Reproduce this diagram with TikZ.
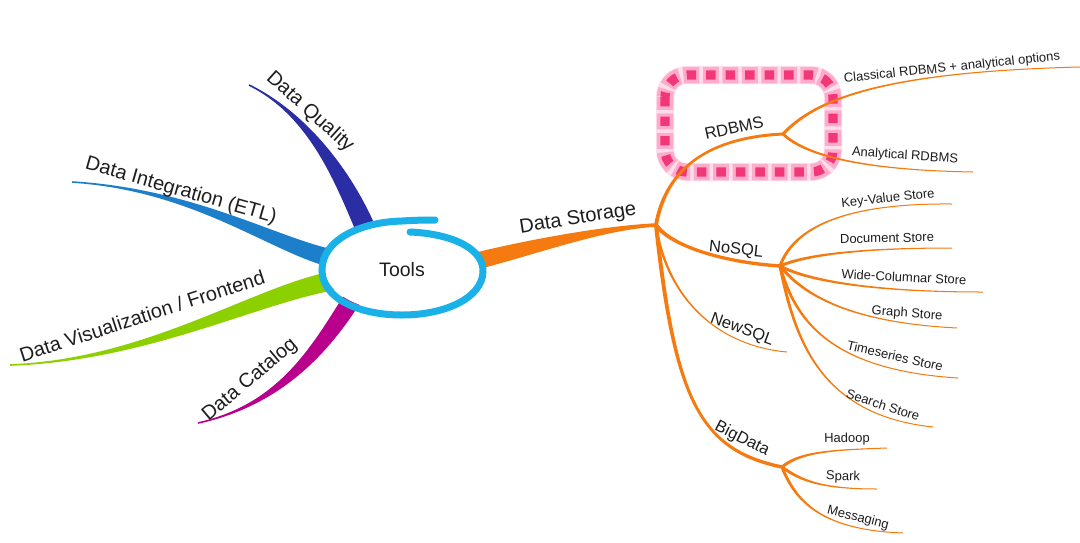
\documentclass[tikz,border=0pt]{standalone}
\usepackage{fontspec}
\setmainfont{Liberation Sans}
\usetikzlibrary{calc}
\definecolor{cq}{RGB}{43,45,165}
\definecolor{ci}{RGB}{29,127,201}
\definecolor{cv}{RGB}{140,208,0}
\definecolor{cc}{RGB}{184,0,140}
\definecolor{co}{RGB}{245,122,16}
\definecolor{ccy}{RGB}{26,176,232}
\definecolor{cpk}{RGB}{242,55,118}
\definecolor{cglow}{RGB}{255,150,190}
\definecolor{txt}{RGB}{30,30,30}
% tapered branch: #1 colour, #2 start, #3 control1, #4 control2, #5 end, #6 half width start, #7 half width end
\newcommand{\taperbranch}[7]{%
  \path ($(#2)!#6!90:(#3)$) coordinate (tA)
        ($(#2)!#6!-90:(#3)$) coordinate (tB)
        ($(#5)!#7!-90:(#4)$) coordinate (tD)
        ($(#5)!#7!90:(#4)$) coordinate (tC);
  \fill[#1] (tA) .. controls ($(#3)+(tA)-(#2)$) and ($(#4)+(tD)-(#5)$) .. (tD)
     -- (tC) .. controls ($(#4)+(tC)-(#5)$) and ($(#3)+(tB)-(#2)$) .. (tB) -- cycle;
}
\tikzset{
  lbl/.style={text=txt, inner sep=0pt},
  big/.style={lbl, font=\fontsize{20}{24}\selectfont},
  mid/.style={lbl, font=\fontsize{16.5}{20}\selectfont},
  small/.style={lbl, font=\fontsize{13}{16}\selectfont},
  glowsoft/.style={draw=cglow, line width=18pt, rounded corners=22pt, draw opacity=0.3},
  glowhalo/.style={draw=cglow, line width=16.5pt, rounded corners=22pt, draw opacity=0.7, dash pattern=on 16pt off 3.5pt, dash phase=3.25pt},
  dashline/.style={draw=cpk, line width=9.3pt, rounded corners=22pt, dash pattern=on 9.3pt off 10.2pt},
  ring/.style={draw=ccy, line width=7pt, line cap=round}
}
\begin{document}
\begin{tikzpicture}[x=1pt,y=-1pt]
\useasboundingbox[fill=white] (0,0) rectangle (1080,542);
% ---------- coordinates ----------
\coordinate (ctr) at (402,270);
\coordinate (dqS) at (367,232); \coordinate (dqA) at (345,180); \coordinate (dqB) at (310,115); \coordinate (dqE) at (249,85);
\coordinate (diS) at (340,260); \coordinate (diA) at (280,250); \coordinate (diB) at (200,190); \coordinate (diE) at (72,182);
\coordinate (dvS) at (338,280); \coordinate (dvA) at (260,292); \coordinate (dvB) at (150,360); \coordinate (dvE) at (10,365);
\coordinate (dcS) at (354,296); \coordinate (dcA) at (320,350); \coordinate (dcB) at (280,405); \coordinate (dcE) at (198,423);
\coordinate (dsS) at (468,263); \coordinate (dsA) at (530,248); \coordinate (dsB) at (600,228); \coordinate (hub) at (656,225);
\coordinate (rdJ) at (783,134); \coordinate (nsJ) at (780,266); \coordinate (bdJ) at (782,467);
\coordinate (clE) at (1080,67); \coordinate (anE) at (973,172);
\coordinate (kvE) at (952,204); \coordinate (docE) at (952,248); \coordinate (wcE) at (983,292);
\coordinate (grE) at (957,328); \coordinate (tsE) at (958,378); \coordinate (ssE) at (933,427);
\coordinate (nwE) at (787,352);
\coordinate (hdE) at (887,448); \coordinate (spE) at (877,489); \coordinate (msE) at (903,533);
\coordinate (boxA) at (665,75); \coordinate (boxB) at (833,172);
% ---------- highlight box ----------
\path[glowsoft] (boxA) rectangle (boxB);
\path[glowhalo] (boxA) rectangle (boxB);
\path[dashline] (boxA) rectangle (boxB);
% ---------- main branches ----------
\taperbranch{cq}{dqS}{dqA}{dqB}{dqE}{10pt}{0.8pt}
\taperbranch{ci}{diS}{diA}{diB}{diE}{9pt}{0.8pt}
\taperbranch{cv}{dvS}{dvA}{dvB}{dvE}{9.5pt}{0.8pt}
\taperbranch{cc}{dcS}{dcA}{dcB}{dcE}{9pt}{0.8pt}
\taperbranch{co}{dsS}{dsA}{dsB}{hub}{8.5pt}{1.8pt}
% ---------- data storage sub-branches ----------
\taperbranch{co}{hub}{665,175}{700,138}{rdJ}{1.9pt}{1.5pt}
\taperbranch{co}{rdJ}{815,100}{880,72}{clE}{1.5pt}{0.5pt}
\taperbranch{co}{rdJ}{805,155}{860,170}{anE}{1.4pt}{0.5pt}
\taperbranch{co}{hub}{670,245}{720,262}{nsJ}{2pt}{1.7pt}
\taperbranch{co}{nsJ}{795,225}{850,203}{kvE}{1.5pt}{0.5pt}
\taperbranch{co}{nsJ}{805,255}{860,248}{docE}{1.5pt}{0.5pt}
\taperbranch{co}{nsJ}{810,282}{880,292}{wcE}{1.5pt}{0.5pt}
\taperbranch{co}{nsJ}{800,290}{840,322}{grE}{1.5pt}{0.5pt}
\taperbranch{co}{nsJ}{795,320}{830,370}{tsE}{1.5pt}{0.5pt}
\taperbranch{co}{nsJ}{795,340}{820,415}{ssE}{1.5pt}{0.5pt}
\taperbranch{co}{hub}{665,290}{710,345}{nwE}{1.3pt}{0.5pt}
\taperbranch{co}{hub}{675,400}{700,450}{bdJ}{2pt}{1.7pt}
\taperbranch{co}{bdJ}{800,452}{830,450}{hdE}{1.5pt}{0.5pt}
\taperbranch{co}{bdJ}{800,480}{820,489}{spE}{1.5pt}{0.5pt}
\taperbranch{co}{bdJ}{795,500}{820,530}{msE}{1.5pt}{0.5pt}
% ---------- central ring ----------
\fill[white] (402.5,268) ellipse [x radius=78pt, y radius=44pt];
\draw[ring] (410,232) .. controls (455,234) and (484,250) .. (483,272)
  .. controls (482,298) and (445,315) .. (402,315)
  .. controls (358,315) and (322,298) .. (322,270)
  .. controls (322,240) and (360,222) .. (402,221)
  .. controls (418,220) and (428,220) .. (435,220);
\node[lbl, font=\fontsize{19.5}{23}\selectfont] (tools) at (ctr) {Tools};
% ---------- labels ----------
\node[big, rotate=-42] (lq) at (310,112) {Data Quality};
\node[big, rotate=-16] (li) at (181,191) {Data Integration (ETL)};
\node[big, rotate=18] (lv) at (142,316) {Data Visualization / Frontend};
\node[big, rotate=40] (lc) at (250,380) {Data Catalog};
\node[big, rotate=9] (ls) at (578,219) {Data Storage};
\node[mid, rotate=12] (lr) at (734,128) {RDBMS};
\node[mid, rotate=-6] (ln) at (736,250) {NoSQL};
\node[mid, rotate=-20] (lnw) at (742,330) {NewSQL};
\node[mid, rotate=-27] (lb) at (742,439) {BigData};
\node[small, rotate=6] (lcl) at (952,68) {Classical RDBMS + analytical options};
\node[small, rotate=-4] (lan) at (905,156) {Analytical RDBMS};
\node[small, rotate=6] (lkv) at (888,199) {Key-Value Store};
\node[small, rotate=1] (ldoc) at (887,238) {Document Store};
\node[small, rotate=-3] (lwc) at (904,277) {Wide-Columnar Store};
\node[small, rotate=-4] (lgr) at (907,314) {Graph Store};
\node[small, rotate=-13] (lts) at (895,356) {Timeseries Store};
\node[small, rotate=-18] (lss) at (883,405) {Search Store};
\node[small, rotate=1] (lhd) at (847,439) {Hadoop};
\node[small, rotate=-2] (lsp) at (843,477) {Spark};
\node[small, rotate=-14] (lms) at (858,518) {Messaging};
\end{tikzpicture}
\end{document}
